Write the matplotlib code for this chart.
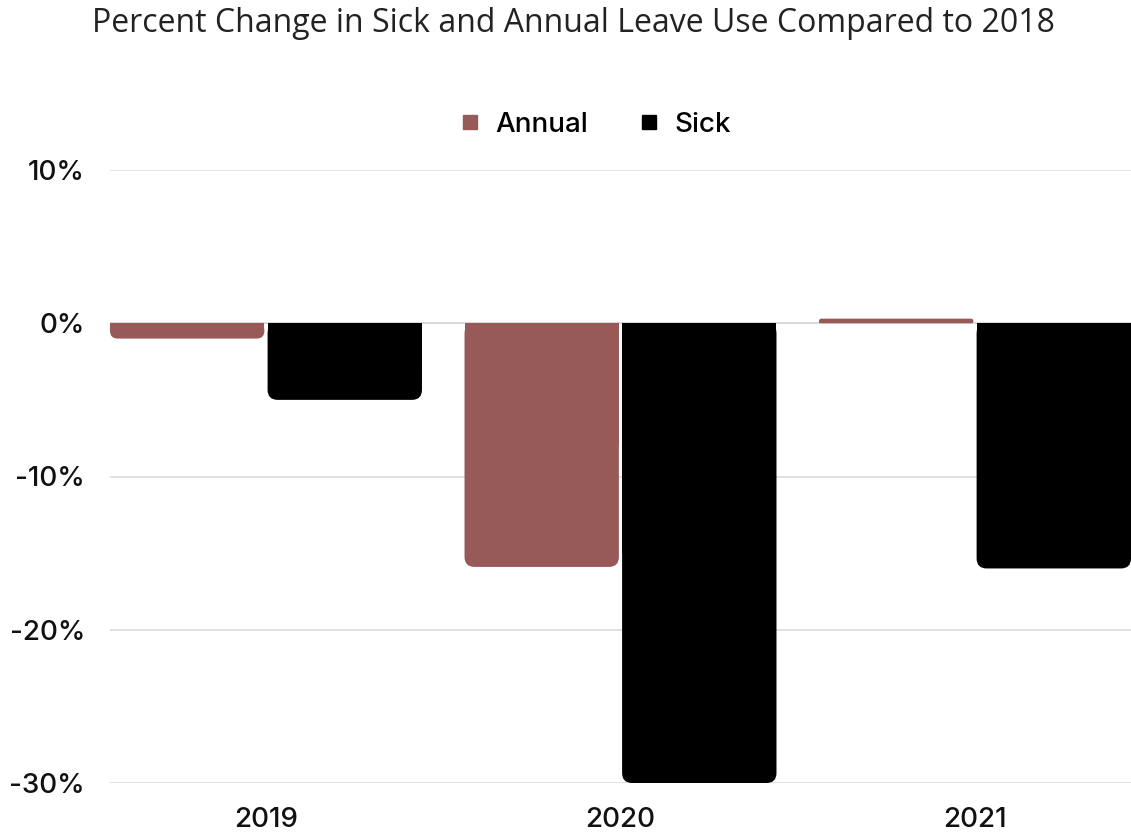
import matplotlib.pyplot as plt
from matplotlib.patches import FancyBboxPatch, Rectangle
from matplotlib.lines import Line2D

# data
years = ['2019', '2020', '2021']
annual = [-1.0, -15.9, 0.3]
sick = [-5.0, -30.0, -16.0]
series_names = ['Annual', 'Sick']
colors = ['#985a59', '#000000']
y_ticks = [10, 0, -10, -20, -30]

plt.rcParams['font.family'] = ['Inter', 'DejaVu Sans']

fig = plt.figure(figsize=(11.31, 8.33), dpi=100)
ax = fig.add_axes([110 / 1131, 50 / 833, 1 - 110 / 1131, 613 / 833])

bar_w = 0.44
gap = 0.009
ax.set_xlim(-bar_w, 2 + bar_w)
ax.set_ylim(-30, 10)

# pixel scale, used to keep rounded corners circular
px_x = (1131 - 110) / (2 + 2 * bar_w)
px_y = 613 / 40
aspect = px_x / px_y
radius_px = 10


def rounded_bar(x0, w, v, color):
    h = abs(v)
    y0 = min(0, v)
    r = min(radius_px / px_x, h * px_y / 2 / px_x, w / 2)
    p = FancyBboxPatch((x0, y0), w, h,
                       boxstyle=f'round,pad=0,rounding_size={r}',
                       mutation_aspect=aspect, fc=color, ec='none', zorder=3)
    ax.add_patch(p)
    # square off the corners that touch zero
    ax.add_patch(Rectangle((x0, min(0, v / 2)), w, h / 2,
                           fc=color, ec='none', zorder=3))


for i in range(len(years)):
    rounded_bar(i - bar_w, bar_w - gap / 2, annual[i], colors[0])
    rounded_bar(i + gap / 2, bar_w - gap / 2, sick[i], colors[1])

ax.set_yticks(y_ticks)
ax.set_yticklabels([f'{t}%' for t in y_ticks])
ax.set_xticks(range(len(years)))
ax.set_xticklabels(years)
ax.tick_params(axis='both', length=0, labelsize=20, labelcolor='#111111')
for lbl in ax.get_xticklabels() + ax.get_yticklabels():
    lbl.set_fontweight(500)
ax.tick_params(axis='x', pad=17)
ax.tick_params(axis='y', pad=18)
ax.grid(axis='y', color='#dedede', linewidth=1.3, zorder=0)
ax.axhline(0, color='#b0b0b0', linewidth=1.3, zorder=1)
for s in ax.spines.values():
    s.set_visible(False)

handles = [Line2D([], [], marker='s', linestyle='none', markersize=10,
                  color=c) for c in colors]
fig.legend(handles, series_names, loc='center', bbox_to_anchor=(592 / 1131, 1 - 125 / 833),
           ncol=2, frameon=False, prop={'size': 20, 'weight': 500},
           handletextpad=0.3, columnspacing=1.6, handlelength=1.2)

fig.text(573 / 1131, 1 - 24 / 833, 'Percent Change in Sick and Annual Leave Use Compared to 2018',
         ha='center', va='center', fontsize=23, family=['Open Sans', 'DejaVu Sans'], color='#222222')

plt.savefig('out.png', dpi=100)
